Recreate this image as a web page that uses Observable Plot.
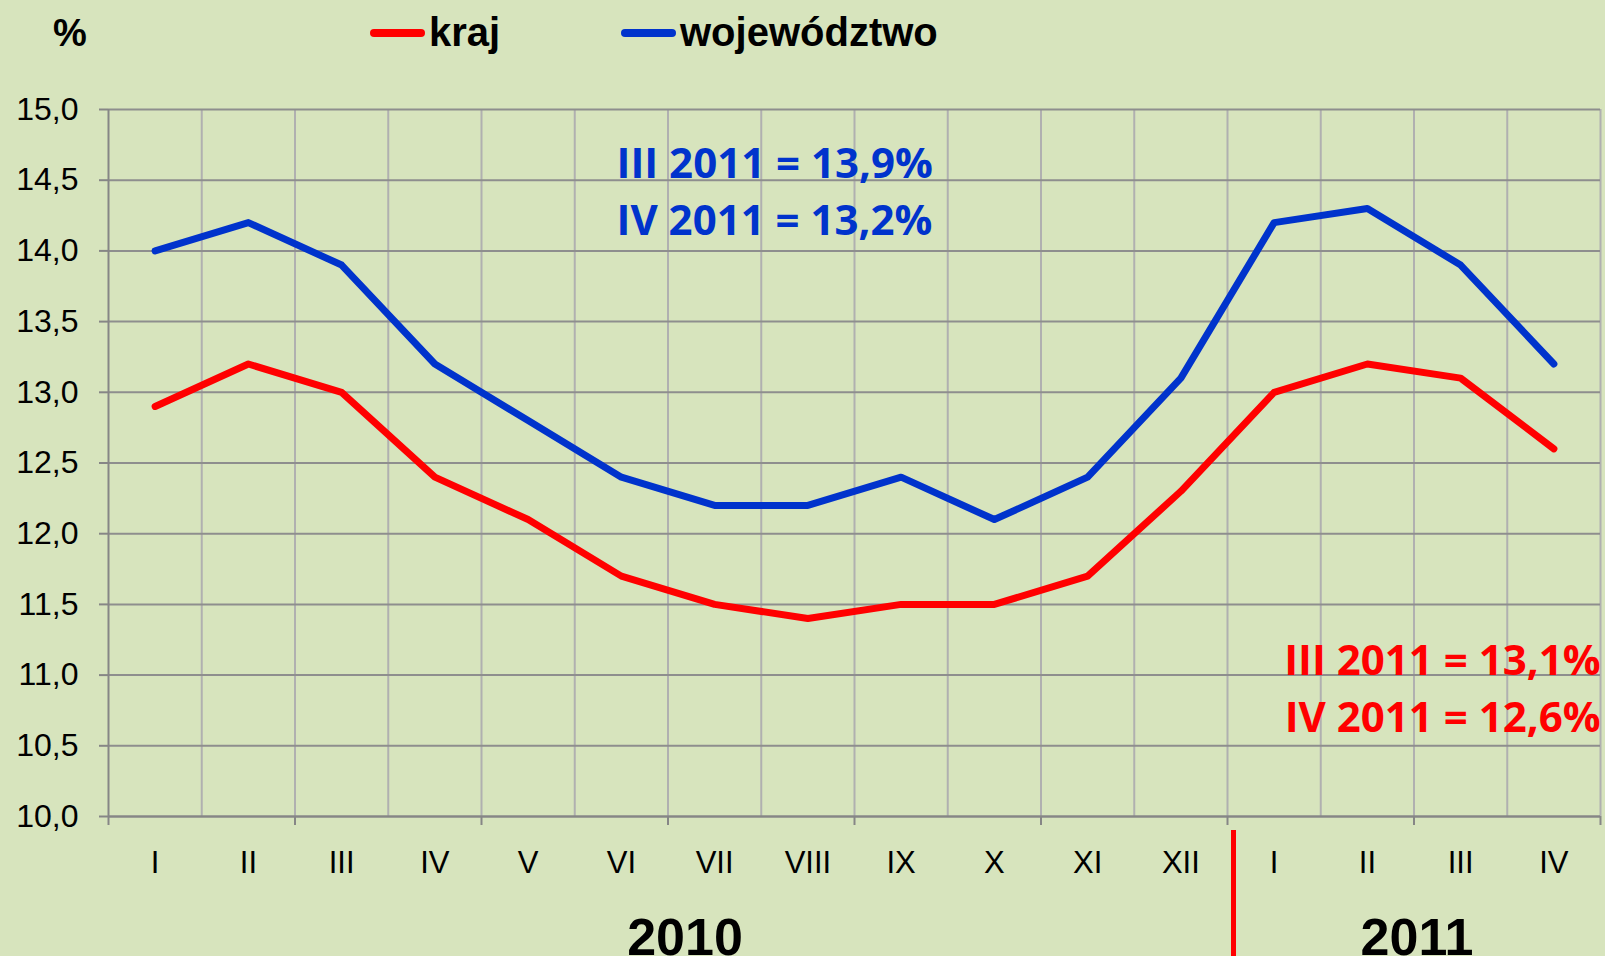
<!DOCTYPE html>
<html><head><meta charset="utf-8">
<script src="https://cdn.jsdelivr.net/npm/d3@7"></script>
<script src="https://cdn.jsdelivr.net/npm/@observablehq/plot@0.6"></script>
<style>
body{margin:0;background:#d7e4bd;}
#wrap{position:relative;width:1605px;height:956px;overflow:hidden;background:#d7e4bd;font-family:"Liberation Sans",Arial,sans-serif;}
.lg{position:absolute;font-weight:bold;font-size:40px;line-height:1;color:#000;white-space:nowrap;}
.sw{position:absolute;height:8px;width:55px;border-radius:4px;}
</style></head><body><div id="wrap"></div>
<script>
const months = ["I","II","III","IV","V","VI","VII","VIII","IX","X","XI","XII","I","II","III","IV"];
const yearLabels = ["2010","2011"];
const yearStart = [0, 12];
const yearEnd = [12, 16];
const kraj = [12.9,13.2,13.0,12.4,12.1,11.7,11.5,11.4,11.5,11.5,11.7,12.3,13.0,13.2,13.1,12.6];
const wojewodztwo = [14.0,14.2,13.9,13.2,12.8,12.4,12.2,12.2,12.4,12.1,12.4,13.1,14.2,14.3,13.9,13.2];
const seriesNames = ["kraj","województwo"];
const seriesColors = ["#ff0000","#0033cc"];
const yTicks = [10,10.5,11,11.5,12,12.5,13,13.5,14,14.5,15];
const notesWoj = ["III 2011 = 13,9%","IV 2011 = 13,2%"];
const notesKraj = ["III 2011 = 13,1%","IV 2011 = 12,6%"];

const rows = [];
[kraj, wojewodztwo].forEach((vals, s) => vals.forEach((v, i) => rows.push({x: i + 0.5, value: v, series: seriesNames[s]})));

const fmt = d => d.toFixed(1).replace(".", ",");
const yearDx = [17, 3];

const chart = Plot.plot({
  width: 1605, height: 956,
  marginTop: 109, marginBottom: 140, marginLeft: 108, marginRight: 5,
  style: {fontFamily: "'Liberation Sans', Arial, sans-serif", background: "transparent", overflow: "visible"},
  x: {domain: [0, months.length], axis: null},
  y: {domain: [yTicks[0], yTicks[yTicks.length - 1]], axis: null},
  color: {domain: seriesNames, range: seriesColors},
  marks: [
    Plot.gridX(d3.range(1, months.length + 1), {stroke: "#b0b0b0", strokeOpacity: 1, strokeWidth: 2}),
    Plot.gridY(yTicks, {stroke: "#8e8e8e", strokeOpacity: 1, strokeWidth: 2}),
    Plot.ruleX([0], {stroke: "#868686", strokeWidth: 2}),
    Plot.ruleY([yTicks[0]], {stroke: "#868686", strokeWidth: 2}),
    Plot.axisY(yTicks, {tickSize: 9, tickPadding: 21, tickFormat: fmt, fontSize: 32, stroke: "#868686", strokeWidth: 2, fill: "#000", label: null}),
    Plot.axisX(d3.range(0, months.length + 1, 2), {tickSize: 9, tickFormat: () => "", stroke: "#868686", strokeWidth: 2, label: null}),
    Plot.axisX(months.map((m, i) => i + 0.5), {tickSize: 0, tickPadding: 34, tickFormat: d => months[Math.floor(d)], fontSize: 31, fill: "#000", label: null}),
    Plot.ruleX([yearStart[1]], {stroke: "#ff0000", strokeWidth: 5, dx: 6, insetTop: 721, insetBottom: -140}),
    ...yearLabels.map((lab, i) =>
      Plot.text([lab], {x: () => (yearStart[i] + yearEnd[i]) / 2, frameAnchor: "bottom", dx: yearDx[i], dy: 138, lineAnchor: "bottom", fontSize: 52, fontWeight: "bold", fill: "#000"})),
    Plot.line(rows, {x: "x", y: "value", z: "series", stroke: "series", strokeWidth: 7, strokeLinejoin: "round", strokeLinecap: "round"}),
    Plot.text([notesWoj.join("\n")], {frameAnchor: "top-left", dx: 508, dy: 28, textAnchor: "start", lineAnchor: "top", lineHeight: 1.36, fontSize: 42, fontWeight: "bold", fontFamily: "'Open Sans', sans-serif", fill: "#0033cc"}),
    Plot.text([notesKraj.join("\n")], {frameAnchor: "top-right", dx: 0, dy: 525, textAnchor: "end", lineAnchor: "top", lineHeight: 1.36, fontSize: 42, fontWeight: "bold", fontFamily: "'Open Sans', sans-serif", fill: "#ff0000"})
  ]
});
const wrap = document.getElementById("wrap");
wrap.appendChild(chart);

// legend
const pct = document.createElement("div");
pct.className = "lg"; pct.textContent = "%";
pct.style.left = "53px"; pct.style.top = "14px"; pct.style.fontSize = "38px";
wrap.appendChild(pct);
const legendX = [370, 621];
seriesNames.forEach((name, i) => {
  const sw = document.createElement("div");
  sw.className = "sw"; sw.style.left = legendX[i] + "px"; sw.style.top = "29px"; sw.style.background = seriesColors[i];
  wrap.appendChild(sw);
  const t = document.createElement("div");
  t.className = "lg"; t.textContent = name;
  t.style.left = (legendX[i] + 59) + "px"; t.style.top = "12px";
  wrap.appendChild(t);
});
</script></body></html>
